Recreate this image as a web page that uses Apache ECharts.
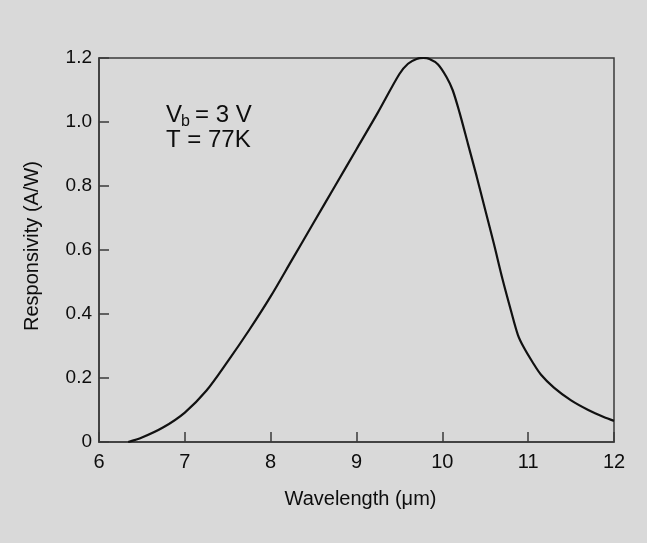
<!DOCTYPE html>
<html>
<head>
<meta charset="utf-8">
<script src="https://cdn.jsdelivr.net/npm/echarts@6/dist/echarts.min.js"></script>
<style>
html,body{margin:0;padding:0;background:#d9d9d9;}
#chart{width:647px;height:543px;}
</style>
</head>
<body>
<div id="chart"></div>
<script>
// Data
const wavelength = [6.34, 6.5, 6.75, 7.0, 7.25, 7.5, 7.75, 8.0, 8.25, 8.5, 8.75, 9.0, 9.25, 9.5, 9.6, 9.7, 9.78, 9.85, 9.95, 10.05, 10.12, 10.2, 10.3, 10.4, 10.5, 10.6, 10.7, 10.8, 10.88, 10.95, 11.05, 11.15, 11.3, 11.5, 11.7, 11.88, 12.0];
const responsivity = [0.0, 0.014, 0.046, 0.092, 0.16, 0.252, 0.35, 0.455, 0.57, 0.685, 0.8, 0.915, 1.03, 1.15, 1.182, 1.197, 1.2, 1.197, 1.18, 1.14, 1.1, 1.03, 0.93, 0.83, 0.725, 0.62, 0.51, 0.41, 0.335, 0.295, 0.25, 0.21, 0.17, 0.13, 0.1, 0.078, 0.066];
const xTicks = [6, 7, 8, 9, 10, 11, 12];
const yTicks = [0, 0.2, 0.4, 0.6, 0.8, 1.0, 1.2];
const xName = 'Wavelength (\u03bcm)';
const yName = 'Responsivity (A/W)';

const chart = echarts.init(document.getElementById('chart'));
const font = 'Liberation Sans, Arial, Helvetica, sans-serif';
const ink = '#0d0d0d';
chart.setOption({
  backgroundColor: '#d9d9d9',
  animation: false,
  grid: {left: 99, right: 33, top: 58, bottom: 101, show: true, borderColor: '#3a3a3a', borderWidth: 1.5, backgroundColor: 'transparent'},
  xAxis: {
    type: 'value', min: xTicks[0], max: xTicks[xTicks.length-1], interval: 1,
    name: xName, nameLocation: 'middle', nameGap: 47,
    nameTextStyle: {fontFamily: font, fontSize: 20, color: ink, padding: [0, 0, 0, 8]},
    axisLine: {show: true, lineStyle: {color: '#3a3a3a', width: 1.5}},
    axisTick: {show: true, inside: true, length: 10, lineStyle: {color: '#3a3a3a', width: 1.5}},
    axisLabel: {fontFamily: font, fontSize: 20, color: ink, margin: 10},
    splitLine: {show: false}
  },
  yAxis: {
    type: 'value', min: yTicks[0], max: yTicks[yTicks.length-1], interval: 0.2,
    name: yName, nameLocation: 'middle', nameGap: 57, nameRotate: 90,
    nameTextStyle: {fontFamily: font, fontSize: 20, color: ink, padding: [0, 0, 0, 8]},
    axisLine: {show: true, lineStyle: {color: '#3a3a3a', width: 1.5}},
    axisTick: {show: true, inside: true, length: 10, lineStyle: {color: '#3a3a3a', width: 1.5}},
    axisLabel: {fontFamily: font, fontSize: 19, color: ink, margin: 7,
      formatter: v => v === 0 ? '0' : v.toFixed(1)},
    splitLine: {show: false}
  },
  graphic: [
    {type: 'text', left: 166, top: 103, style: {text: 'V', fontFamily: font, fontSize: 24, fill: ink}},
    {type: 'text', left: 181, top: 114, style: {text: 'b', fontFamily: font, fontSize: 16, fill: ink}},
    {type: 'text', left: 195, top: 103, style: {text: '= 3 V', fontFamily: font, fontSize: 24, fill: ink}},
    {type: 'text', left: 166, top: 128, style: {text: 'T = 77K', fontFamily: font, fontSize: 24, fill: ink}}
  ],
  series: [{
    type: 'line',
    data: wavelength.map((x, i) => [x, responsivity[i]]),
    smooth: 0.3,
    showSymbol: false,
    lineStyle: {color: '#111', width: 2.2}
  }]
});
</script>
</body>
</html>
